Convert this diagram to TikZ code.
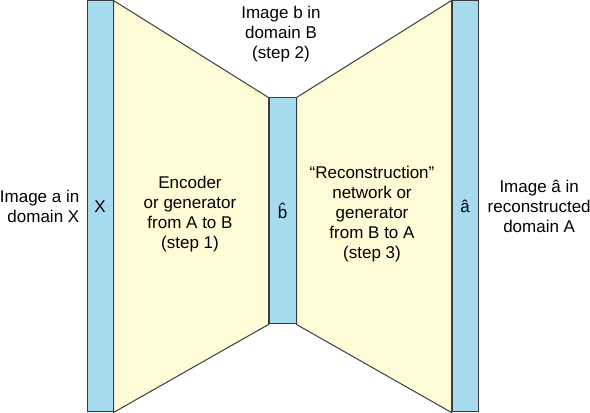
\documentclass[tikz,border=0pt]{standalone}
\usepackage{fontspec}
\setmainfont{Liberation Sans}
\usepackage{tikz}
\usetikzlibrary{positioning,backgrounds}
\definecolor{barblue}{HTML}{A5DAEF}
\definecolor{netyellow}{HTML}{FFFCD8}
\definecolor{edgegray}{HTML}{3C3C3C}
\tikzset{
  bar/.style={draw=edgegray,fill=barblue,line width=1pt,minimum width=26pt,inner sep=0pt},
  net/.style={draw=edgegray,fill=netyellow,line width=1pt,line join=miter},
  lbl/.style={align=center,inner sep=0pt,font=\fontsize{17}{20}\selectfont}
}
\begin{document}
\begin{tikzpicture}[x=1pt,y=1pt]
      \useasboundingbox (0,0) rectangle (590,413);
      % the three image bars
      \node[bar,minimum height=411pt] (lbar) at (100,206.5) {};
      \node[bar,minimum width=27pt,minimum height=226pt] (mbar) at (282.5,202) {};
      \node[bar,minimum height=411pt] (rbar) at (465,206.5) {};
      \node[lbl] (x) at (lbar) {X};
      \node[lbl] (bhat) at (mbar) {\^{b}};
      \node[lbl] (ahat) at (rbar) {â};
      % the two networks
      \begin{scope}[on background layer]
        \path[net] (lbar.north east) -- (mbar.north west) -- (mbar.south west) -- (lbar.south east) -- cycle;
        \path[net] (mbar.north east) -- (rbar.north west) -- (rbar.south west) -- (mbar.south east) -- cycle;
      \end{scope}
      \node[lbl] (enc) at (190,199) {Encoder\\or generator\\from A to B\\(step 1)};
      \node[lbl] (rec) at (372,199) {``Reconstruction''\\network or\\generator\\from B to A\\(step 3)};
      % labels round the bars
      \node[lbl,align=right,left=7pt of lbar] (ina) {Image a in\\domain X};
      \node[lbl] (inb) at (281,379) {Image b in\\domain B\\(step 2)};
      \node[lbl,right=9pt of rbar] (outa) {Image â in\\reconstructed\\domain A};
    \end{tikzpicture}
\end{document}
